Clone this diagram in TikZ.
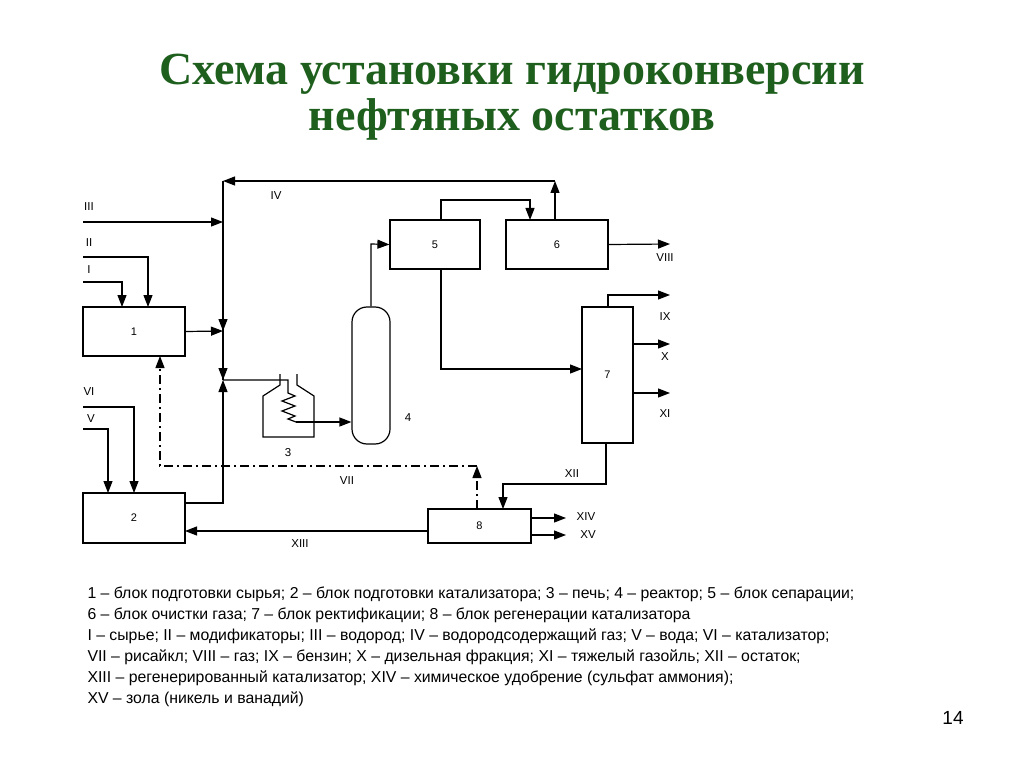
\documentclass[tikz,border=0pt]{standalone}
\usepackage{fontspec}
\setmainfont{Liberation Sans}
\newfontfamily\titlefont{Liberation Serif}
\usetikzlibrary{arrows.meta}
\definecolor{tgreen}{HTML}{1E5F1E}
\begin{document}
\begin{tikzpicture}[x=1pt,y=-1pt,
  box/.style={draw,line width=1.2pt,inner sep=0pt,font=\fontsize{11}{12}\selectfont},
  ln/.style={line width=1.2pt},
  ar/.style={line width=1.2pt,-{Triangle[length=12pt,width=9pt]}},
  lab/.style={font=\fontsize{11.5}{12}\selectfont},
  dd/.style={line width=1.2pt,dash pattern=on 9pt off 4pt on 2pt off 4pt}]
\useasboundingbox (0,0) rectangle (1024,767);
\node[font=\titlefont\bfseries\fontsize{46}{46}\selectfont,text=tgreen,align=center] (title) at (512,97) {Схема установки гидроконверсии\\нефтяных остатков};
\node[box,minimum width=102pt,minimum height=49pt] (b1) at (134,331.5) {1};
\node[box,minimum width=102pt,minimum height=50pt] (b2) at (134,518) {2};
\node[box,minimum width=90pt,minimum height=49pt] (b5) at (435,244.5) {5};
\node[box,minimum width=102pt,minimum height=49pt] (b6) at (557,244.5) {6};
\node[box,minimum width=51pt,minimum height=136pt] (b7) at (607.5,375) {7};
\node[box,minimum width=103pt,minimum height=34pt] (b8) at (479.5,526) {8};
\node[draw,line width=1.2pt,rounded corners=15pt,minimum width=38pt,minimum height=137pt] (b4) at (371,375.5) {};
\node[lab] (l4) at (408,418) {4};
\node[lab] (l3) at (288,453) {3};
\coordinate (top) at (223,181);
\coordinate (j1) at (223,331);
\coordinate (j2) at (223,380);
\draw[ln] (top) -- (j2);
\draw[ar] (555,181) -- (top);
\draw[ar] (223,181) -- (223,331);
\draw[ar] (223,331) -- (223,380);
\draw[ar] (b6.north -| 555,0) -- (555,181);
\draw[ar] (b2.east |- 0,503) -- (223,503) -- (j2);
\draw[ar] (83,222) -- (223,222);
\draw[ar] (b1.east) -- (j1);
\draw[ar] (83,257) -- (148,257) -- (148,307);
\draw[ar] (83,282) -- (122,282) -- (122,307);
\draw[ar] (83,407) -- (134,407) -- (134,493);
\draw[ar] (83,429) -- (108,429) -- (108,493);
\draw[ln] (280,374) -- (280,385) -- (263,396) -- (263,437) -- (314,437) -- (314,396) -- (297,385) -- (297,374);
\draw[ln] (223,380) -- (288,380) -- (288,393) -- (295,396) -- (282,401) -- (295,406) -- (282,411) -- (295,416) -- (288,419) -- (296,422);
\draw[ar] (296,422) -- (b4.west |- 0,422);
\draw[ar] (b4.north) -- (371,244) -- (b5.west);
\draw[ar] (441,220) -- (441,200) -- (530,200) -- (530,220);
\draw[ar] (441,269) -- (441,369) -- (582,369);
\draw[ar] (b6.east) -- (670,244);
\draw[ar] (608,307) -- (608,295) -- (670,295);
\draw[ar] (633,344) -- (670,344);
\draw[ar] (633,393) -- (670,393);
\draw[ar] (606,443) -- (606,484) -- (503,484) -- (503,509);
\draw[ar] (531,518) -- (566,518);
\draw[ar] (531,535) -- (566,535);
\draw[ar] (428,531) -- (185,531);
\draw[dd,-{Triangle[length=12pt,width=9pt]}] (477,509) -- (477,466);
\draw[dd,-{Triangle[length=12pt,width=9pt]}] (477,466) -- (160,466) -- (160,356);
\node[lab] at (89,207) {III};
\node[lab] at (89,243) {II};
\node[lab] at (89,270) {I};
\node[lab] at (89,392) {VI};
\node[lab] at (91,419) {V};
\node[lab] at (276,196) {IV};
\node[lab] at (665,258) {VIII};
\node[lab] at (665,317) {IX};
\node[lab] at (665,357) {X};
\node[lab] at (665,414) {XI};
\node[lab] at (572,474) {XII};
\node[lab] at (347,481) {VII};
\node[lab] at (300,544) {XIII};
\node[lab] at (586,517) {XIV};
\node[lab] at (588,535) {XV};
\node[anchor=north west,align=left,font=\fontsize{15.8}{21}\selectfont] (legend) at (84,583) {1 – блок подготовки сырья; 2 – блок подготовки катализатора; 3 – печь; 4 – реактор; 5 – блок сепарации;\\
6 – блок очистки газа; 7 – блок ректификации; 8 – блок регенерации катализатора\\
I – сырье; II – модификаторы; III – водород; IV – водородсодержащий газ; V – вода; VI – катализатор;\\
VII – рисайкл; VIII – газ; IX – бензин; X – дизельная фракция; XI – тяжелый газойль; XII – остаток;\\
XIII – регенерированный катализатор; XIV – химическое удобрение (сульфат аммония);\\
XV – зола (никель и ванадий)};
\node[font=\fontsize{19}{21}\selectfont] (pg) at (953,718) {14};
\end{tikzpicture}
\end{document}
